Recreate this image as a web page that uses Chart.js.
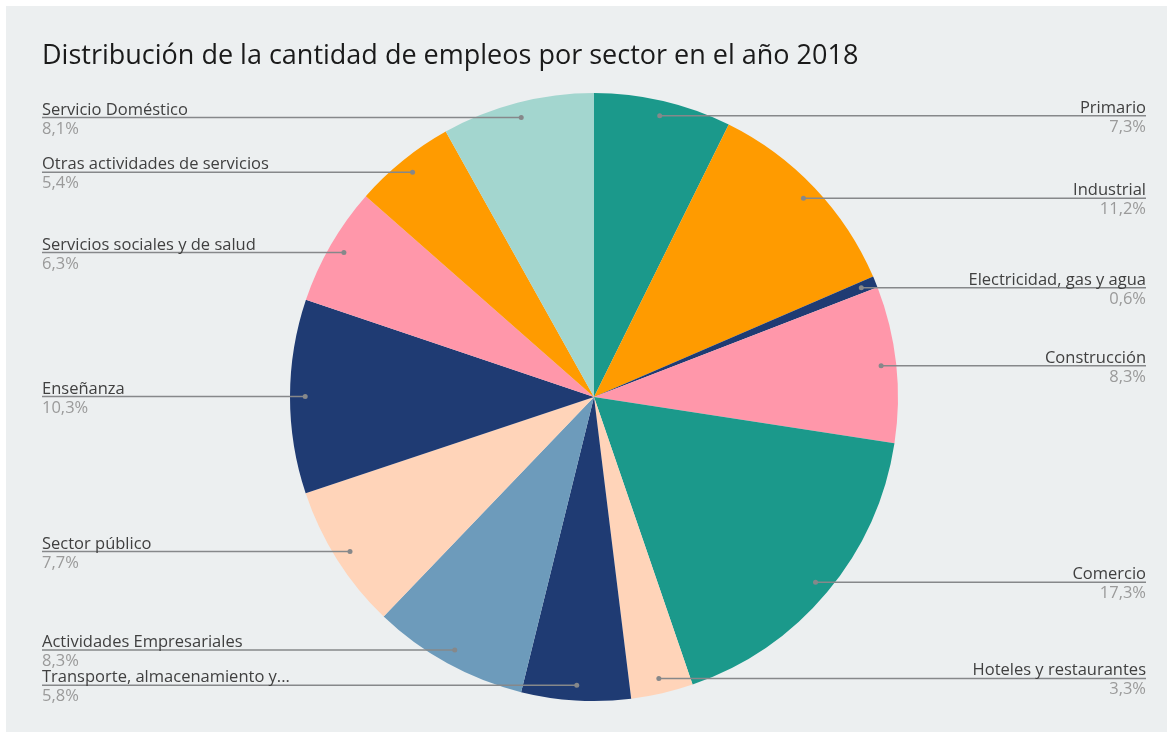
<!DOCTYPE html>
<html>
<head>
<meta charset="utf-8">
<script src="https://cdn.jsdelivr.net/npm/chart.js@4"></script>
<style>
  html, body { margin: 0; padding: 0; background: #ffffff; }
  #wrap { width: 1173px; height: 732px; position: relative; }
</style>
</head>
<body>
<div id="wrap"><canvas id="myChart" width="1173" height="732"></canvas></div>
<script>
var titulo = 'Distribución de la cantidad de empleos por sector en el año 2018';
var sectores = ['Primario', 'Industrial', 'Electricidad, gas y agua', 'Construcción', 'Comercio',
    'Hoteles y restaurantes', 'Transporte, almacenamiento y...', 'Actividades Empresariales',
    'Sector público', 'Enseñanza', 'Servicios sociales y de salud', 'Otras actividades de servicios',
    'Servicio Doméstico'];
var porcentajes = [7.3, 11.2, 0.6, 8.3, 17.3, 3.3, 5.8, 8.3, 7.7, 10.3, 6.3, 5.4, 8.1];
var colores = ['#1b998b', '#ff9b00', '#1f3b73', '#ff97aa', '#1b998b', '#ffd4b9', '#1f3b73',
    '#6d9bbb', '#ffd4b9', '#1f3b73', '#ff97aa', '#ff9b00', '#a3d6cf'];

var fuente = '"Open Sans", "Noto Sans", sans-serif';

// fondo gris del panel y título
var fondo = {
    id: 'fondo',
    beforeDraw: function (chart) {
        var c = chart.ctx;
        c.save();
        c.fillStyle = '#eceff0';
        c.fillRect(6, 6, 1161, 726);
        c.fillStyle = '#1a1a1a';
        c.font = '27px ' + fuente;
        c.textBaseline = 'alphabetic';
        c.textAlign = 'left';
        c.fillText(titulo, 42, 64);
        c.restore();
    }
};

// líneas guía con nombre y porcentaje a los lados
var etiquetas = {
    id: 'etiquetas',
    afterDatasetsDraw: function (chart) {
        var c = chart.ctx;
        var meta = chart.getDatasetMeta(0);
        c.save();
        meta.data.forEach(function (arc, i) {
            var p = arc.getProps(['x', 'y', 'startAngle', 'endAngle', 'outerRadius']);
            var mid = (p.startAngle + p.endAngle) / 2;
            var r = p.outerRadius * 0.95;
            var px = p.x + Math.cos(mid) * r;
            var py = p.y + Math.sin(mid) * r;
            var derecha = px >= p.x;
            var xFin = derecha ? 1146 : 42;

            c.strokeStyle = '#86888a';
            c.lineWidth = 1.5;
            c.beginPath();
            c.moveTo(px, py);
            c.lineTo(xFin, py);
            c.stroke();

            c.fillStyle = '#86888a';
            c.beginPath();
            c.arc(px, py, 2.5, 0, Math.PI * 2);
            c.fill();

            c.textAlign = derecha ? 'right' : 'left';
            c.font = '16.5px ' + fuente;
            c.fillStyle = '#404040';
            c.textBaseline = 'alphabetic';
            c.fillText(sectores[i], xFin, py - 3);
            c.fillStyle = '#9a9a9a';
            c.fillText(porcentajes[i].toFixed(1).replace('.', ',') + '%', xFin, py + 16);
        });
        c.restore();
    }
};

var ctx = document.getElementById('myChart').getContext('2d');
var myChart = new Chart(ctx, {
    type: 'pie',
    data: {
        labels: sectores,
        datasets: [{
            data: porcentajes,
            backgroundColor: colores,
            borderWidth: 0
        }]
    },
    options: {
        responsive: false,
        animation: false,
        layout: {
            padding: { left: 290, right: 275, top: 93, bottom: 31 }
        },
        plugins: {
            legend: { display: false },
            title: { display: false },
            tooltip: { enabled: false }
        }
    },
    plugins: [fondo, etiquetas]
});
</script>
</body>
</html>
